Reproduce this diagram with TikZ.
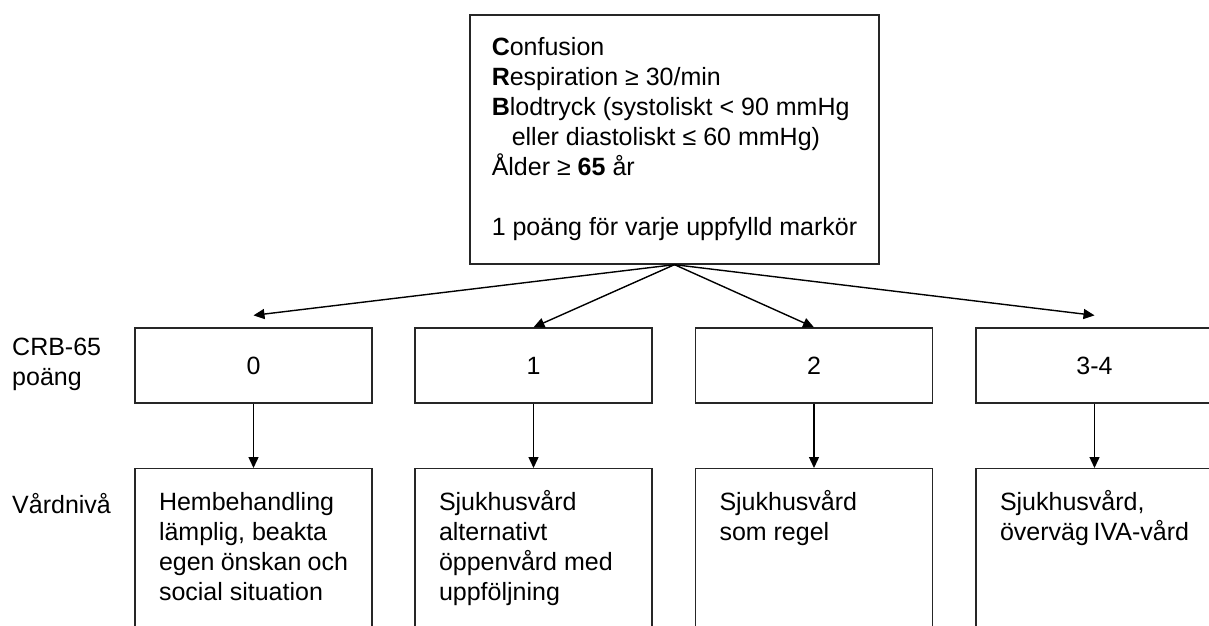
\documentclass[tikz,border=0pt]{standalone}
\usepackage{fontspec}
\setmainfont{Liberation Sans}
\usepackage{tikz}
\usetikzlibrary{arrows.meta}

\tikzset{
    box/.style={draw=black!85, line width=1.3pt, inner sep=0pt},
    score/.style={box, minimum width=237pt, minimum height=75pt},
    care/.style={box, anchor=north, inner xsep=24pt, inner ysep=21pt},
    arrow/.style={-{Triangle[length=11pt,width=10pt]}, line width=1.4pt}
}

\begin{document}
\begin{tikzpicture}[x=1pt, y=-1pt, font=\fontsize{25pt}{30pt}\selectfont]
    \useasboundingbox (0,0) rectangle (1209,625);
    \clip (0,0) rectangle (1209,625);
    % CRB-65 criteria
    \node(crit)[box, minimum width=409pt, minimum height=249pt, align=left] at (674.5,139.5)
        {\textbf{C}onfusion\\
         \textbf{R}espiration ≥ 30/min\\
         \textbf{B}lodtryck (systoliskt < 90 mmHg\\
         \hspace*{20pt}eller diastoliskt ≤ 60 mmHg)\\
         Ålder ≥ \textbf{65} år\\[30pt]
         1 poäng för varje uppfylld markör};
    % score row
    \node(crb)[anchor=west, align=left, inner sep=0pt] at (12,364) {CRB-65\\poäng};
    \node(p0)[score] at (253.5,365.5) {0};
    \node(p1)[score] at (533.5,365.5) {1};
    \node(p2)[score] at (814,365.5) {2};
    \node(p3)[score] at (1094.5,365.5) {3-4};
    % care level row
    \node(vard)[anchor=base west, inner sep=0pt] at (12,513) {Vårdnivå};
    \node(c0)[care] at (253.5,468) {\parbox[t][170pt][t]{189pt}{\strut Hembehandling\\lämplig, beakta\\egen önskan och\\social situation}};
    \node(c1)[care] at (533.5,468) {\parbox[t][170pt][t]{189pt}{\strut Sjukhusvård\\alternativt\\öppenvård med\\uppföljning}};
    \node(c2)[care] at (814,468) {\parbox[t][170pt][t]{189pt}{\strut Sjukhusvård\\som regel}};
    \node(c3)[care] at (1094.5,468) {\parbox[t][170pt][t]{189pt}{\strut Sjukhusvård,\\överväg IVA-vård}};
    \coordinate(a0) at ([yshift=12pt]p0.north);
    \coordinate(a3) at ([yshift=12pt]p3.north);
    \draw[arrow] (crit.south) -- (a0);
    \draw[arrow] (crit.south) -- (p1.north);
    \draw[arrow] (crit.south) -- (p2.north);
    \draw[arrow] (crit.south) -- (a3);
    \draw[arrow] (p0.south) -- (c0.north);
    \draw[arrow] (p1.south) -- (c1.north);
    \draw[arrow] (p2.south) -- (c2.north);
    \draw[arrow] (p3.south) -- (c3.north);
\end{tikzpicture}
\end{document}
